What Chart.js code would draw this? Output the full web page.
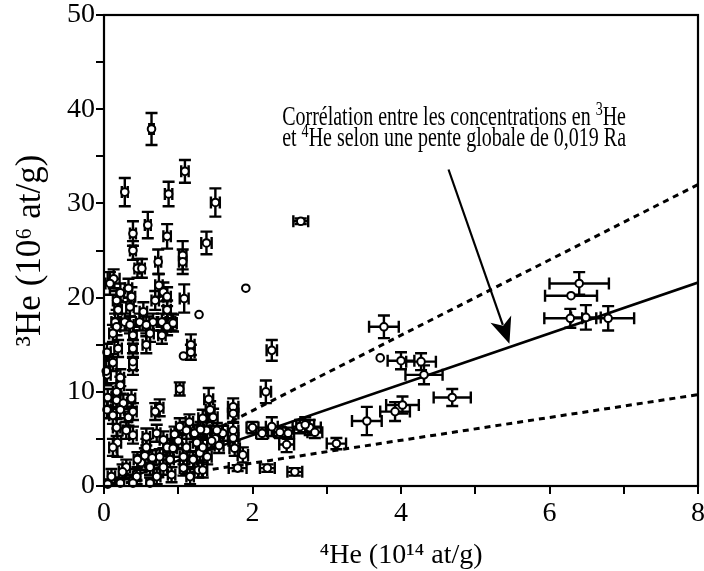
<!DOCTYPE html>
<html><head><meta charset="utf-8">
<script src="https://cdn.jsdelivr.net/npm/chart.js@4/dist/chart.umd.min.js"></script>
<style>html,body{margin:0;padding:0;background:#fff}#wrap{width:704px;height:571px}</style>
</head><body><div id="wrap"><canvas id="c" width="704" height="571"></canvas></div>
<script>
// 4He (10^14 at/g) values
const he4 = [0.64,0.28,1.09,0.87,1.50,0.59,0.85,0.39,1.38,1.06,1.06,0.73,0.45,0.51,0.39,2.65,1.91,1.28,1.08,0.13,
0.74,0.22,0.33,0.80,0.85,0.17,0.37,0.69,0.19,0.35,0.53,0.85,0.15,0.28,0.48,0.66,0.78,0.91,0.17,0.35,
0.57,0.85,0.93,0.12,0.39,0.62,0.78,1.17,1.17,1.07,0.04,0.19,0.39,0.57,0.12,0.39,0.39,0.04,0.22,0.22,
0.17,1.02,0.05,0.17,0.26,0.37,0.75,0.69,0.04,0.12,0.22,0.33,0.39,1.02,1.11,1.22,1.38,0.17,0.30,0.39,
0.57,0.71,0.80,0.18,0.12,0.57,0.85,0.93,1.11,1.25,0.75,0.89,1.07,1.20,1.29,0.30,0.44,0.62,0.71,0.80,
0.91,1.07,1.16,1.27,0.22,0.39,0.62,2.26,2.18,1.74,1.74,1.41,1.43,1.47,1.33,2.00,2.13,2.26,2.37,2.48,
2.64,2.77,2.84,2.71,1.74,1.74,1.60,1.52,1.76,1.87,2.46,3.13,1.80,2.20,2.57,1.33,1.39,1.33,3.77,3.72,
4.00,4.27,4.31,4.69,4.02,3.92,3.54,6.40,6.29,6.28,6.49,6.79,0.05,0.10,0.25,0.50,0.55,0.45,0.65,1.00,
0.95,1.15,1.30,1.50,1.55,1.45,0.03,0.08];
// 3He (10^6 at/g) values
const he3 = [37.9,31.2,33.4,31.0,30.1,27.7,26.5,26.8,25.8,24.5,23.8,23.8,23.1,23.1,25.0,28.1,21.0,18.2,19.9,22.0,
21.3,20.5,21.0,20.6,20.1,19.7,20.1,19.7,18.7,19.0,18.5,18.7,17.4,17.4,17.4,17.4,17.4,17.4,16.9,17.1,
17.1,16.9,17.3,16.2,16.0,16.2,16.0,15.0,14.2,13.8,14.2,14.6,14.6,15.0,13.1,12.7,13.2,11.8,11.5,10.7,
10.0,10.3,9.4,9.1,8.8,9.3,8.3,7.9,8.1,7.5,8.1,7.3,7.9,6.3,5.9,5.6,5.9,6.2,5.9,5.4,
5.2,5.6,4.9,4.6,4.1,4.1,4.1,4.0,4.1,4.6,3.1,2.8,3.1,2.8,3.5,2.0,1.0,2.0,1.0,2.0,
1.2,1.9,1.0,1.7,0.3,0.3,0.3,14.4,10.0,8.4,7.7,9.2,8.1,7.3,7.2,6.2,5.6,6.3,5.7,5.6,
6.3,6.2,5.7,6.5,5.9,5.1,5.6,5.9,4.0,3.3,4.4,4.5,1.9,1.9,1.5,4.1,3.1,1.7,16.9,13.6,
13.3,13.2,11.8,9.4,8.6,7.9,6.9,21.5,20.2,17.8,17.9,17.8,0.2,1.0,1.5,2.5,3.2,2.8,3.0,4.8,
5.5,6.8,6.0,5.0,4.3,4.8,12.2,21.5];
// horizontal error (4He)
const he4Err = [0.03,0.04,0.05,0.05,0.06,0.04,0.05,0.04,0.07,0.05,0.05,0.04,0.04,0.04,0.04,0.10,0,0,0.06,0.08,
0.05,0.05,0.05,0.05,0.05,0.05,0.05,0.05,0.05,0.05,0.05,0.05,0.05,0.05,0.05,0.05,0.05,0.05,0.05,0.05,
0.05,0.05,0.05,0.05,0.05,0.05,0.05,0.05,0.05,0,0.05,0.05,0.05,0.05,0.05,0.05,0.05,0.05,0.05,0.05,
0.05,0.05,0.05,0.05,0.05,0.05,0.05,0.05,0.05,0.05,0.05,0.05,0.05,0.05,0.05,0.05,0.05,0.05,0.05,0.05,
0.05,0.05,0.05,0.05,0.05,0.05,0.05,0.05,0.05,0.05,0.05,0.05,0.05,0.05,0.05,0.05,0.05,0.05,0.05,0.05,
0.05,0.05,0.05,0.05,0.05,0.05,0.05,0.07,0.07,0.07,0.07,0.06,0.06,0.06,0.06,0.08,0.08,0.08,0.08,0.08,
0.10,0.15,0.10,0.12,0.07,0.07,0.07,0.07,0.07,0.07,0.10,0.13,0.12,0.10,0.10,0.06,0.06,0.06,0.20,0,
0.18,0.20,0.25,0.25,0.22,0.20,0.20,0.40,0.35,0.35,0.20,0.35,0.05,0.05,0.05,0.05,0.05,0.05,0.05,0.05,
0.05,0.05,0.05,0.06,0.06,0.06,0.05,0.06];
// vertical error (3He)
const he3Err = [1.7,1.5,1.2,1.3,1.5,1.4,1.3,1.3,1.2,1.5,1.3,1.3,1.0,1.0,1.0,0.3,0,0,1.5,1.0,
1.2,1.0,1.0,1.0,1.0,1.0,1.0,1.0,1.0,1.0,1.0,1.0,0.9,0.9,0.9,0.9,0.9,0.9,0.9,0.9,
0.9,0.9,0.9,0.9,0.9,0.9,0.9,1.1,0.8,0,0.9,0.9,0.9,0.9,0.9,0.9,0.9,0.9,0.9,0.9,
0.9,0.7,0.9,0.9,0.9,0.9,0.9,0.9,0.9,0.9,0.9,0.9,0.9,0.9,0.9,0.9,0.9,0.9,0.9,0.9,
0.9,0.9,0.9,1.5,0.9,0.9,0.9,0.9,0.9,0.9,0.8,0.8,0.8,0.8,0.8,0.8,0.8,0.8,0.8,0.8,
0.8,0.8,0.8,0.8,0.6,0.6,0.6,1.1,1.2,0.9,0.9,1.2,0.9,0.9,0.9,0.6,0.6,1.0,0.6,0.6,
0.7,0.8,0.6,0.8,0.8,0.8,0.8,0.8,0.8,0.8,0.8,0.6,0.3,0.4,0.4,0.8,0.8,0.8,1.2,0,
0.9,0.9,1.0,0.9,0.9,1.0,1.5,1.2,0,1.0,1.3,1.3,0.5,0.8,0.8,0.8,0.8,0.8,0.8,0.8,
0.8,0.8,0.8,0.8,0.8,0.8,1.5,1.2];

// correlation lines (end points)
const lineX = [0, 8];
const solidY = [0, 21.6];
const upperY = [0, 32.0];
const lowerY = [0, 9.7];

// annotation
const noteLine1 = ['Corrélation entre les concentrations en ', '3', 'He'];
const noteLine2 = ['et ', '4', 'He selon une pente globale de 0,019 Ra'];
const notePos = [2.40, 38.3, 36.05];
const arrowFrom = [4.64, 33.6];
const arrowTo = [5.46, 15.1];

const xTitle = '⁴He (10¹⁴ at/g)';
const yTitle = '³He (10⁶ at/g)';

const SERIF = "'Liberation Serif','Times New Roman',serif";

const points = he4.map((x, i) => ({x: x, y: he3[i]}));
const mkLine = ys => lineX.map((x, i) => ({x: x, y: ys[i]}));

const errorBars = {
  id: 'errorBars',
  beforeDatasetDraw(chart, args) {
    if (args.index !== 0) return;
    const xs = chart.scales.x, ys = chart.scales.y, ctx = chart.ctx, a = chart.chartArea;
    ctx.save();
    ctx.beginPath(); ctx.rect(a.left, a.top, a.right - a.left, a.bottom - a.top); ctx.clip();
    ctx.strokeStyle = '#000'; ctx.lineWidth = 2.4;
    const cap = 6;
    for (let i = 0; i < he4.length; i++) {
      const px = xs.getPixelForValue(he4[i]), py = ys.getPixelForValue(he3[i]);
      ctx.beginPath();
      if (he3Err[i] > 0) {
        const y1 = ys.getPixelForValue(he3[i] + he3Err[i]), y2 = ys.getPixelForValue(he3[i] - he3Err[i]);
        ctx.moveTo(px, y1); ctx.lineTo(px, y2);
        ctx.moveTo(px - cap, y1); ctx.lineTo(px + cap, y1);
        ctx.moveTo(px - cap, y2); ctx.lineTo(px + cap, y2);
      }
      if (he4Err[i] > 0) {
        const x1 = xs.getPixelForValue(he4[i] - he4Err[i]), x2 = xs.getPixelForValue(he4[i] + he4Err[i]);
        ctx.moveTo(x1, py); ctx.lineTo(x2, py);
        ctx.moveTo(x1, py - cap); ctx.lineTo(x1, py + cap);
        ctx.moveTo(x2, py - cap); ctx.lineTo(x2, py + cap);
      }
      ctx.stroke();
    }
    ctx.restore();
  }
};

function drawRich(ctx, parts, x, y, size, sx) {
  ctx.save();
  ctx.translate(x, y);
  ctx.scale(sx, 1);
  let cx = 0;
  parts.forEach((t, k) => {
    const sup = (k === 1);
    ctx.font = (sup ? Math.round(size * 0.72) : size) + 'px ' + SERIF;
    ctx.fillText(t, cx, sup ? -size * 0.36 : 0);
    cx += ctx.measureText(t).width;
  });
  ctx.restore();
}

const decorations = {
  id: 'decorations',
  afterDraw(chart) {
    const ctx = chart.ctx, a = chart.chartArea, xs = chart.scales.x, ys = chart.scales.y;
    ctx.save();
    ctx.strokeStyle = '#000'; ctx.lineWidth = 2.2;
    ctx.strokeRect(a.left, a.top, a.right - a.left, a.bottom - a.top);
    // text
    ctx.fillStyle = '#000'; ctx.textBaseline = 'alphabetic'; ctx.textAlign = 'left';
    const tx = xs.getPixelForValue(notePos[0]);
    drawRich(ctx, noteLine1, tx, ys.getPixelForValue(notePos[1]), 27, 0.74);
    drawRich(ctx, noteLine2, tx, ys.getPixelForValue(notePos[2]), 27, 0.74);
    // arrow
    const x0 = xs.getPixelForValue(arrowFrom[0]), y0 = ys.getPixelForValue(arrowFrom[1]);
    const x1 = xs.getPixelForValue(arrowTo[0]), y1 = ys.getPixelForValue(arrowTo[1]);
    const ang = Math.atan2(y1 - y0, x1 - x0);
    const hl = 26, hw = 11;
    const bx = x1 - hl * Math.cos(ang), by = y1 - hl * Math.sin(ang);
    ctx.lineWidth = 2.2;
    ctx.beginPath(); ctx.moveTo(x0, y0); ctx.lineTo(bx + 6 * Math.cos(ang), by + 6 * Math.sin(ang)); ctx.stroke();
    ctx.beginPath();
    ctx.moveTo(x1, y1);
    ctx.lineTo(bx + hw * Math.sin(ang), by - hw * Math.cos(ang));
    ctx.lineTo(bx + 7 * Math.cos(ang), by + 7 * Math.sin(ang));
    ctx.lineTo(bx - hw * Math.sin(ang), by + hw * Math.cos(ang));
    ctx.closePath(); ctx.fill();
    ctx.restore();
  }
};

new Chart(document.getElementById('c'), {
  type: 'scatter',
  data: {
    datasets: [
      {data: points, pointRadius: 3.8, pointBorderWidth: 2, pointBackgroundColor: '#fff', pointBorderColor: '#000', showLine: false, clip: 4},
      {type: 'line', data: mkLine(solidY), borderColor: '#000', borderWidth: 2.6, pointRadius: 0, fill: false},
      {type: 'line', data: mkLine(upperY), borderColor: '#000', borderWidth: 3, borderDash: [6, 5], pointRadius: 0, fill: false},
      {type: 'line', data: mkLine(lowerY), borderColor: '#000', borderWidth: 3, borderDash: [6, 5], pointRadius: 0, fill: false}
    ]
  },
  options: {
    responsive: false, animation: false, devicePixelRatio: 1,
    layout: {padding: {top: 15, right: 6, left: 0, bottom: 0}},
    plugins: {legend: {display: false}, tooltip: {enabled: false}},
    scales: {
      x: {
        type: 'linear', min: 0, max: 8,
        ticks: {stepSize: 1, autoSkip: false, maxRotation: 0, padding: 3, color: '#000',
          font: {family: SERIF, size: 28}, callback: v => (v % 2 === 0 ? String(v) : '')},
        grid: {drawOnChartArea: false, drawTicks: true, tickLength: 8, color: '#000', lineWidth: 2},
        border: {display: false},
        title: {display: true, text: xTitle, color: '#000', font: {family: SERIF, size: 28, lineHeight: 1}, padding: {top: 0, bottom: 1}},
        afterFit: s => { s.height = 85; s.paddingLeft = 0; s.paddingRight = 0; }
      },
      y: {
        type: 'linear', min: 0, max: 50,
        ticks: {stepSize: 5, autoSkip: false, padding: 1, color: '#000',
          font: {family: SERIF, size: 28}, callback: v => (v % 10 === 0 ? String(v) : '')},
        grid: {drawOnChartArea: false, drawTicks: true, tickLength: 8, color: '#000', lineWidth: 2},
        border: {display: false},
        title: {display: true, text: yTitle, color: '#000', font: {family: SERIF, size: 35, lineHeight: 1}, padding: {top: 13, bottom: 0}},
        afterFit: s => { s.width = 104; s.paddingTop = 0; s.paddingBottom = 0; }
      }
    }
  },
  plugins: [errorBars, decorations]
});
</script>
</body></html>
